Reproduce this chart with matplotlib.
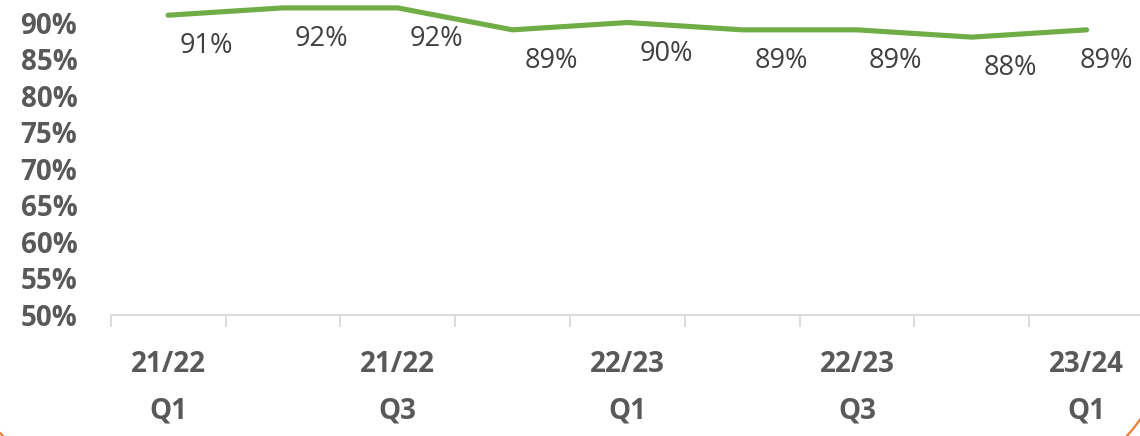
import matplotlib
matplotlib.use("Agg")
import matplotlib.pyplot as plt
from matplotlib.lines import Line2D

# quarterly share, %
quarters = ["21/22 Q1", "21/22 Q2", "21/22 Q3", "21/22 Q4",
            "22/23 Q1", "22/23 Q2", "22/23 Q3", "22/23 Q4", "23/24 Q1"]
values = [91, 92, 92, 89, 90, 89, 89, 88, 89]
y_ticks = [50, 55, 60, 65, 70, 75, 80, 85, 90]

plt.rcParams["font.family"] = ["Open Sans", "DejaVu Sans"]

W, H = 1140, 436
fig = plt.figure(figsize=(W / 100, H / 100), dpi=100)
# plot area runs a little past the right edge, like the cropped original
ax = fig.add_axes([110.7 / W, 121 / H, (1144 - 110.7) / W, 315 / H])

x = list(range(len(values)))
ax.plot(x, values, color="#70AD47", lw=3.7, solid_capstyle="round", clip_on=False)

# data labels sit below-right of each point; the last one is pulled back in
for i, v in enumerate(values):
    last = i == len(values) - 1
    dx = 20 if last else 12
    ax.annotate(f"{v}%", (i, v), xytext=(dx * 0.72, -31 * 0.72),
                textcoords="offset points", ha="center" if last else "left",
                va="center", fontsize=19.5, color="#404040")

ax.set_xlim(-0.5, len(values) - 0.5)
ax.set_ylim(50, 93.08)
ax.set_yticks(y_ticks)
ax.set_yticklabels([f"{t}%" for t in y_ticks], fontsize=20, fontweight="bold",
                   color="#595959")
ax.tick_params(axis="y", length=0, pad=24)

major = x[::2]
ax.set_xticks(major)
ax.set_xticklabels([quarters[i].replace(" ", "\n") for i in major],
                   fontsize=20, fontweight="bold", color="#595959",
                   linespacing=1.8)
ax.set_xticks([i - 0.5 for i in range(len(values) + 1)], minor=True)
ax.tick_params(axis="x", which="major", length=0, pad=25)
ax.tick_params(axis="x", which="minor", length=8.6, width=1.3, color="#D9D9D9")

for s in ["top", "right", "left"]:
    ax.spines[s].set_visible(False)
ax.spines["bottom"].set_color("#D9D9D9")
ax.spines["bottom"].set_linewidth(1.3)

# bit of the orange frame that peeks into the corners
fig.add_artist(Line2D([1125 / W, 1133 / W, 1142 / W],
                      [-2 / H, 7 / H, 19 / H],
                      color="#ED7D31", lw=1.6, transform=fig.transFigure))
fig.add_artist(Line2D([0, 3 / W], [3 / H, 0],
                      color="#ED7D31", lw=1.6, transform=fig.transFigure))

fig.savefig("out.png", dpi=100, facecolor="white")
